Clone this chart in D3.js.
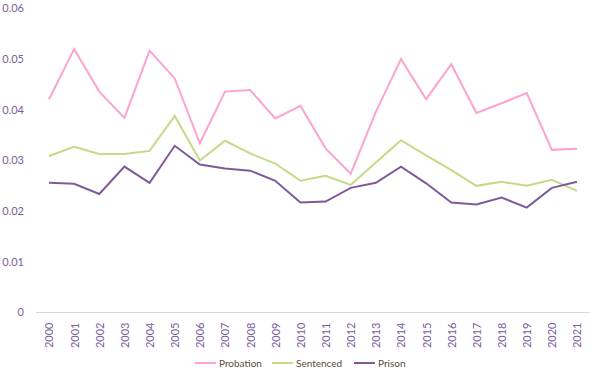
<!DOCTYPE html>
<html>
<head>
<meta charset="utf-8">
<script src="https://cdn.jsdelivr.net/npm/d3@7"></script>
<style>
  body { margin: 0; background: #fff; }
  text { font-family: Lato, "Open Sans", sans-serif; }
</style>
</head>
<body>
<div id="chart"></div>
<script>
// data
var years = ["2000","2001","2002","2003","2004","2005","2006","2007","2008","2009","2010",
             "2011","2012","2013","2014","2015","2016","2017","2018","2019","2020","2021"];
var probation = [0.0421,0.0520,0.0436,0.0384,0.0517,0.0462,0.0334,0.0436,0.0439,0.0383,0.0408,
                 0.0324,0.0274,0.0396,0.0500,0.0421,0.0490,0.0394,0.0413,0.0433,0.0321,0.0323];
var sentenced = [0.0309,0.0327,0.0313,0.0313,0.0319,0.0388,0.0300,0.0339,0.0314,0.0294,0.0260,
                 0.0270,0.0252,0.0296,0.0340,0.0310,0.0281,0.0250,0.0258,0.0250,0.0262,0.0240];
var prison = [0.0256,0.0254,0.0234,0.0288,0.0256,0.0329,0.0292,0.0284,0.0280,0.0260,0.0217,
              0.0219,0.0246,0.0256,0.0288,0.0255,0.0217,0.0213,0.0227,0.0207,0.0246,0.0258];
var yTicks = [0, 0.01, 0.02, 0.03, 0.04, 0.05, 0.06];
var seriesNames = ["Probation", "Sentenced", "Prison"];
var seriesColors = ["#fca3cf", "#c3da86", "#7e5a9b"];

var width = 594, height = 371;

var svg = d3.select("#chart")
  .append("svg")
    .attr("width", width)
    .attr("height", height);

var x = d3.scalePoint()
  .domain(years)
  .range([49, 577]);

var y = d3.scaleLinear()
  .domain([0, 0.06])
  .range([312.5, 8.5]);

// y axis labels (no line)
svg.append("g")
  .selectAll("text")
  .data(yTicks)
  .enter()
  .append("text")
    .attr("x", 24)
    .attr("y", function(d) { return y(d); })
    .attr("dy", "0.35em")
    .attr("text-anchor", "end")
    .style("font-size", "11px")
    .style("fill", "#7b5d9c")
    .text(function(d) { return d === 0 ? "0" : d3.format(".2f")(d); });

// x axis
var xAxis = svg.append("g")
  .attr("transform", "translate(0," + y(0) + ")")
  .call(d3.axisBottom(x).tickSize(0).tickPadding(0));
xAxis.select(".domain").remove();
xAxis.append("line")
  .attr("x1", 36).attr("x2", 590)
  .attr("y1", 0).attr("y2", 0)
  .attr("stroke", "#d9d9d9")
  .attr("stroke-width", 1);
xAxis.selectAll(".tick text")
  .attr("transform", "rotate(-90)")
  .attr("x", -10)
  .attr("y", 0)
  .attr("dy", "0.35em")
  .attr("text-anchor", "end")
  .style("font-family", "Lato, 'Open Sans', sans-serif")
  .style("font-size", "11px")
  .style("fill", "#7b5d9c");

// lines
var line = d3.line()
  .x(function(d, i) { return x(years[i]); })
  .y(function(d) { return y(d); });

var allSeries = [probation, sentenced, prison];
svg.append("g")
  .selectAll("path")
  .data(allSeries)
  .enter()
  .append("path")
    .attr("d", line)
    .attr("fill", "none")
    .attr("stroke", function(d, i) { return seriesColors[i]; })
    .attr("stroke-width", 2)
    .attr("stroke-linejoin", "miter");

// legend
var legendX = [195, 272, 354];
var legend = svg.append("g")
  .selectAll("g")
  .data(seriesNames)
  .enter()
  .append("g")
    .attr("transform", function(d, i) { return "translate(" + legendX[i] + ",363)"; });
legend.append("line")
  .attr("x1", 0).attr("x2", 21)
  .attr("y1", 0).attr("y2", 0)
  .attr("stroke", function(d, i) { return seriesColors[i]; })
  .attr("stroke-width", 2);
legend.append("text")
  .attr("x", 24)
  .attr("y", 0)
  .attr("dy", "0.35em")
  .style("font-size", "10px")
  .style("fill", "#5b4a3a")
  .text(function(d) { return d; });
</script>
</body>
</html>
